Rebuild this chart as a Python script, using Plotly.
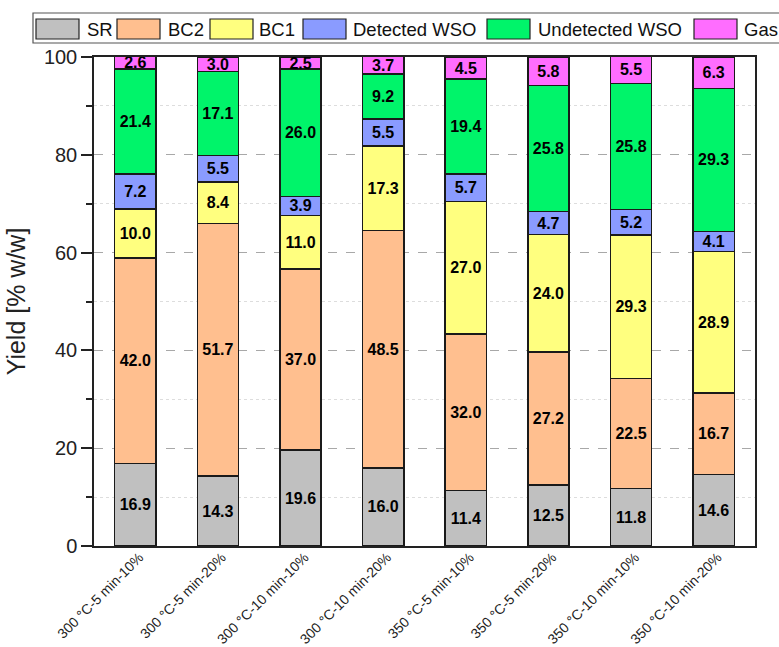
import plotly.graph_objects as go

categories = ["300 °C-5 min-10%", "300 °C-5 min-20%", "300 °C-10 min-10%", "300 °C-10 min-20%",
              "350 °C-5 min-10%", "350 °C-5 min-20%", "350 °C-10 min-10%", "350 °C-10 min-20%"]
sr = [16.9, 14.3, 19.6, 16.0, 11.4, 12.5, 11.8, 14.6]
bc2 = [42.0, 51.7, 37.0, 48.5, 32.0, 27.2, 22.5, 16.7]
bc1 = [10.0, 8.4, 11.0, 17.3, 27.0, 24.0, 29.3, 28.9]
detected_wso = [7.2, 5.5, 3.9, 5.5, 5.7, 4.7, 5.2, 4.1]
undetected_wso = [21.4, 17.1, 26.0, 9.2, 19.4, 25.8, 25.8, 29.3]
gas = [2.6, 3.0, 2.5, 3.7, 4.5, 5.8, 5.5, 6.3]

series_names = ["SR", "BC2", "BC1", "Detected WSO", "Undetected WSO", "Gas"]
series_values = [sr, bc2, bc1, detected_wso, undetected_wso, gas]
colors = ["#C0C0C0", "#FFBF8F", "#FFFF7F", "#8A9BFF", "#00F46A", "#FF6DFF"]

FONT = "Arial, Liberation Sans, sans-serif"
W, H = 779, 647
L, R, T, B = 94, 755, 57, 546  # plot area in pixels

fig = go.Figure()
for name, vals, col in zip(series_names, series_values, colors):
    fig.add_trace(go.Bar(
        x=list(range(len(categories))), y=vals, name=name,
        marker=dict(color=col, line=dict(color="#1a1a1a", width=1.5)),
        width=0.5,
        text=[f"{v:.1f}" for v in vals],
        textposition="inside", insidetextanchor="middle", textangle=0,
        constraintext="none",
        textfont=dict(family=FONT, size=16, color="black", weight="bold"),
        showlegend=False,
    ))

fig.update_layout(
    width=W, height=H, barmode="stack",
    margin=dict(l=L, r=W - R, t=T, b=H - B, pad=0),
    paper_bgcolor="white", plot_bgcolor="white",
    uniformtext=dict(minsize=16, mode="show"),
    font=dict(family=FONT, color="black"),
)

fig.update_xaxes(
    tickmode="array", tickvals=list(range(len(categories))), ticktext=categories,
    tickangle=-45, tickfont=dict(size=14, family=FONT, color="#222"),
    ticklabelstandoff=-4, ticklabelshift=4,
    range=[-0.5, 7.5], showline=True, linecolor="#222", linewidth=1.5, mirror=True,
    ticks="", showgrid=False, zeroline=False, automargin=False,
)
fig.update_yaxes(
    range=[0, 100], dtick=20, tick0=0,
    showline=True, linecolor="#222", linewidth=1.5, mirror=True,
    ticks="outside", ticklen=11, tickwidth=1.5, tickcolor="#222",
    tickfont=dict(size=20, family=FONT, color="#222"),
    showgrid=True, gridcolor="#a8a8a8", griddash="dash", gridwidth=1,
    zeroline=False, automargin=False,
    minor=dict(dtick=10, ticks="outside", ticklen=6, tickwidth=1.5, tickcolor="#222",
               showgrid=True, gridcolor="#dddddd", griddash="dot", gridwidth=1),
    title=dict(text="Yield [% w/w]", font=dict(size=25, family=FONT, color="#222"), standoff=11),
)

# Manual legend (framed box with swatches), positioned in paper coordinates
def px_x(p):
    return (p - L) / (R - L)

def px_y(p):
    return (B - p) / (B - T)

fig.add_shape(type="rect", xref="paper", yref="paper",
              x0=px_x(33), x1=px_x(820), y0=px_y(43), y1=px_y(13),
              line=dict(color="#555", width=1.2), fillcolor="white", layer="above")
swatch_x = [36, 117, 210, 303, 487, 694]
text_x = [85, 166, 257, 351, 536, 742]
for name, col, sx, tx in zip(series_names, colors, swatch_x, text_x):
    fig.add_shape(type="rect", xref="paper", yref="paper",
                  x0=px_x(sx), x1=px_x(sx + 43), y0=px_y(39), y1=px_y(19),
                  line=dict(color="#222", width=1.2), fillcolor=col, layer="above")
    fig.add_annotation(xref="paper", yref="paper", x=px_x(tx), y=px_y(29),
                       text=name, showarrow=False, xanchor="left", yanchor="middle",
                       font=dict(size=18.5, family=FONT, color="#111"))

fig.write_html("out.html", config={"displayModeBar": False},
               post_script="document.body.style.margin='0';document.body.style.overflow='hidden';")
